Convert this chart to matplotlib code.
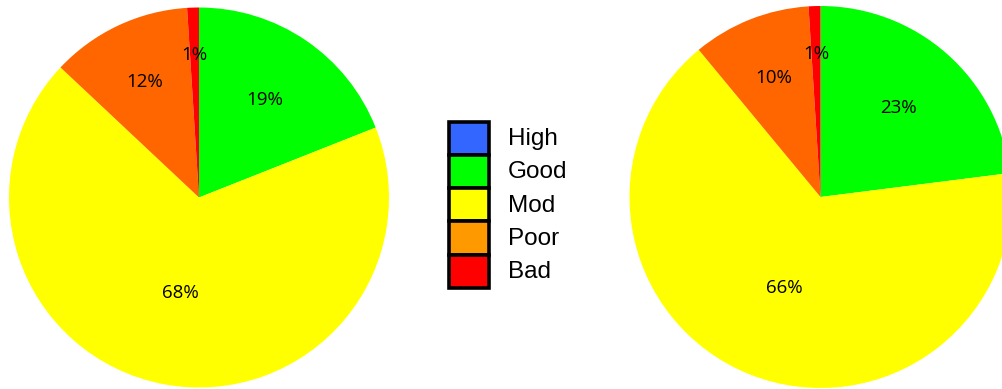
import matplotlib
matplotlib.use("Agg")
import matplotlib.pyplot as plt
from matplotlib.patches import Rectangle
import numpy as np

# Status classes and their colours
categories = ["High", "Good", "Mod", "Poor", "Bad"]
legend_colors = ["#3366ff", "#00ff00", "#ffff00", "#ff9900", "#ff0000"]

# Pie slices (High has no share in either pie)
slice_labels = ["Good", "Mod", "Poor", "Bad"]
slice_colors = ["#00ff00", "#ffff00", "#ff6600", "#ff0000"]
left_values = [19, 68, 12, 1]
right_values = [23, 66, 10, 1]

# radial position of each percentage label (fraction of radius)
label_radius = [0.62, 0.51, 0.67, 0.75]

W, H = 1003, 389
fig = plt.figure(figsize=(W / 100, H / 100), dpi=100)


def pie_axes(cx, cy, r):
    ax = fig.add_axes([(cx - r) / W, (H - cy - r) / H, 2 * r / W, 2 * r / H])
    return ax


def draw_pie(ax, values):
    wedges, _ = ax.pie(values, colors=slice_colors, startangle=90,
                       counterclock=False, radius=1.0,
                       wedgeprops=dict(linewidth=0))
    ax.set_xlim(-1, 1)
    ax.set_ylim(-1, 1)
    ax.axis("off")
    for w, v, lr in zip(wedges, values, label_radius):
        mid = np.deg2rad((w.theta1 + w.theta2) / 2)
        ax.text(lr * np.cos(mid), lr * np.sin(mid), f"{v}%",
                ha="center", va="center", fontsize=13.5,
                family="Open Sans", color="black")


draw_pie(pie_axes(199, 197.5, 190), left_values)
draw_pie(pie_axes(820.5, 197, 191), right_values)

# Legend drawn in pixel coordinates
lax = fig.add_axes([0, 0, 1, 1])
lax.set_xlim(0, W)
lax.set_ylim(H, 0)
lax.axis("off")
box_x, box_w = 449.5, 40
box_top, box_h = 121.5, 33.3
for i, (name, col) in enumerate(zip(categories, legend_colors)):
    y = box_top + i * box_h
    lax.add_patch(Rectangle((box_x, y), box_w, box_h, facecolor=col,
                            edgecolor="black", linewidth=2.6))
    lax.text(508, y + box_h / 2 + 1, name, ha="left", va="center",
             fontsize=17.5, family="Liberation Sans", color="black")

fig.savefig("out.png", dpi=100)
